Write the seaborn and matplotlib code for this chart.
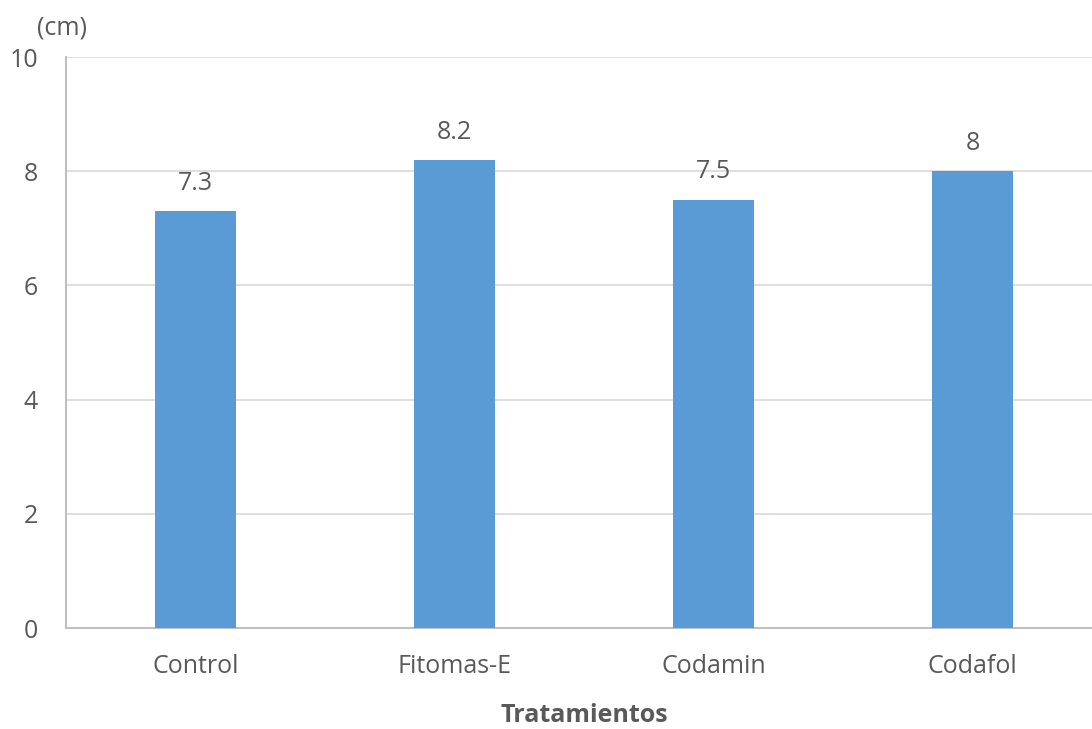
import matplotlib
matplotlib.use("Agg")
import matplotlib.pyplot as plt
import seaborn as sns
import pandas as pd

# data
tratamientos = ["Control", "Fitomas-E", "Codamin", "Codafol"]
altura = [7.3, 8.2, 7.5, 8.0]
etiquetas = ["7.3", "8.2", "7.5", "8"]

df = pd.DataFrame({"Tratamiento": tratamientos, "Altura": altura})

sns.set_style("white")
plt.rcParams["font.family"] = ["Open Sans", "DejaVu Sans"]

text_color = "#595959"
fs = 18
fig = plt.figure(figsize=(10.92, 7.29), dpi=100)
ax = fig.add_axes([0.0604, 0.1385, 0.9487, 0.7833])

sns.barplot(data=df, x="Tratamiento", y="Altura", color="#5b9bd5",
            width=0.31, saturation=1, linewidth=0, ax=ax, zorder=3)

# value labels above the bars
for i, lab in enumerate(etiquetas):
    ax.annotate(lab, (i, altura[i]), xytext=(0, 20), textcoords="offset points",
                ha="center", va="center", fontsize=fs, color=text_color)

ax.set_ylim(0, 10)
ax.set_xlim(-0.5, 3.5)
ax.set_yticks([0, 2, 4, 6, 8, 10])
ax.yaxis.grid(True, color="#d9d9d9", linewidth=1.2, zorder=0)
ax.set_axisbelow(True)

for s in ["top", "right"]:
    ax.spines[s].set_visible(False)
for s in ["left", "bottom"]:
    ax.spines[s].set_color("#bfbfbf")
    ax.spines[s].set_linewidth(1.5)

ax.tick_params(axis="both", length=0, labelsize=fs, colors=text_color)
ax.tick_params(axis="y", pad=20)
ax.tick_params(axis="x", pad=19)

ax.set_ylabel("")
ax.set_xlabel("Tratamientos", fontsize=fs, fontweight="bold",
              color=text_color, labelpad=17)
fig.text(0.034, 0.962, "(cm)", fontsize=fs, color=text_color,
         ha="left", va="center")

fig.savefig("out.png", dpi=100)
